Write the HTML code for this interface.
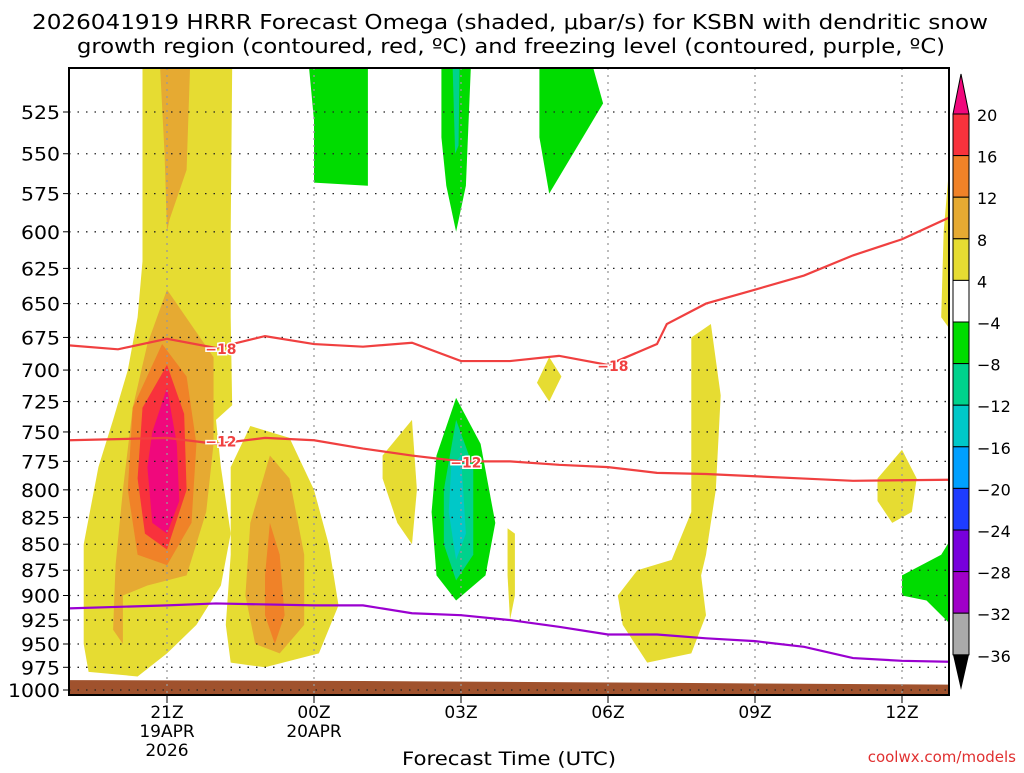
<!DOCTYPE html>
<html><head><meta charset="utf-8"><style>
body{margin:0;background:#fff;width:1024px;height:768px;overflow:hidden;font-family:"Liberation Sans",sans-serif}
</style></head><body>
<svg id="chart" width="1024" height="768" xmlns="http://www.w3.org/2000/svg" font-family="DejaVu Sans, Liberation Sans, sans-serif">
<text x="32" y="29" font-size="20" textLength="956" lengthAdjust="spacingAndGlyphs" fill="#000">2026041919 HRRR Forecast Omega (shaded, μbar/s) for KSBN with dendritic snow</text>
<text x="77" y="53" font-size="20" textLength="868" lengthAdjust="spacingAndGlyphs" fill="#000">growth region (contoured, red, ºC) and freezing level (contoured, purple, ºC)</text>
<text x="402" y="765" font-size="19" textLength="214" lengthAdjust="spacingAndGlyphs" fill="#000">Forecast Time (UTC)</text>
<text x="1016" y="762" font-size="15" text-anchor="end" fill="#e03030">coolwx.com/models</text>
<g id="plot"></g>
</svg>
<script>
const pLevels=[525,550,575,600,625,650,675,700,725,750,775,800,825,850,875,900,925,950,975,1000];
const timeTicks=[2,5,8,11,14,17];
const timeLabels=[["21Z","19APR","2026"],["00Z","20APR"],["03Z"],["06Z"],["09Z"],["12Z"]];
const cbLabels=["20","16","12","8","4","-4","-8","-12","-16","-20","-24","-28","-32","-36"];
const cbColors=["#f8323c","#f08228","#e6aa32","#e6dc32","#ffffff","#00dc00","#00d28c","#00c8c8","#00a0ff","#1e3cff","#7800dc","#a000c8","#aaaaaa"];
const hours=[0,1,2,3,4,5,6,7,8,9,10,11,12,12.2,13,14,15,16,17,18];
const iso18=[681,684,676,683,674,680,682,679,693,693,689,696,680,665,650,640,630,616,605,590];
const hours12=[0,2,3,4,5,6,7,8,9,10,11,12,13,15,16,18];
const iso12=[757,755,760,755,757,764,770,775,775,778,780,785,786,790,792,791];
const hoursFz=[0,2,3,5,6,7,8,9,10,11,12,13,14,15,16,17,18];
const freezing=[913,910,908,910,910,918,920,925,932,940,940,944,947,953,965,968,969];
const sfcHours=[0,6,12,18];
const sfcP=[989,990,992,994];
const blobs=[
["#e6dc32",[[1.5,500],[3.33,500],[3.3,600],[3.3,660],[3.33,728],[3.0,740],[3.1,780],[3.3,840],[3.1,890],[2.6,930],[2.0,960],[1.4,985],[0.4,980],[0.3,950],[0.3,850],[0.6,780],[0.9,740],[1.2,700],[1.4,660],[1.5,620]]],
["#e6aa32",[[1.86,500],[2.47,500],[2.4,560],[2.05,592],[2.0,600],[1.95,550]]],
["#e6aa32",[[2.0,640],[2.95,690],[2.95,760],[2.8,820],[2.4,880],[1.6,890],[1.1,900],[1.1,950],[0.9,935],[0.95,870],[1.1,800],[1.3,730],[1.6,680]]],
["#f08228",[[1.3,730],[1.9,680],[2.4,705],[2.6,760],[2.5,830],[2.0,870],[1.4,860],[1.2,800]]],
["#f8323c",[[1.5,730],[2.0,696],[2.35,735],[2.4,800],[2.0,855],[1.55,840],[1.4,790]]],
["#f0087c",[[1.7,750],[2.0,714],[2.2,760],[2.25,810],[2.0,840],[1.7,830],[1.6,780]]],
["#e6dc32",[[3.3,780],[3.7,745],[4.5,755],[5.0,800],[5.3,850],[5.5,910],[5.1,960],[4.0,975],[3.3,970],[3.2,930],[3.3,860]]],
["#e6aa32",[[3.7,830],[4.1,770],[4.5,790],[4.8,860],[4.8,930],[4.3,960],[3.8,950],[3.6,900]]],
["#f08228",[[4.0,880],[4.1,830],[4.3,860],[4.4,920],[4.2,950],[4.0,920]]],
["#00dc00",[[4.9,500],[6.1,500],[6.1,570],[5.0,568],[5.0,530]]],
["#00dc00",[[7.6,500],[8.2,500],[8.1,570],[7.9,600],[7.7,570],[7.6,540]]],
["#00d28c",[[7.83,500],[7.97,500],[7.95,545],[7.88,550]]],
["#00dc00",[[9.6,500],[10.7,500],[10.9,520],[9.8,575],[9.6,540]]],
["#e6dc32",[[6.4,770],[7.0,740],[7.1,800],[7.0,850],[6.7,830],[6.4,790]]],
["#00dc00",[[7.5,770],[7.9,722],[8.4,760],[8.7,830],[8.5,880],[7.9,905],[7.5,880],[7.4,820]]],
["#00d28c",[[7.65,800],[7.9,740],[8.25,780],[8.25,860],[7.9,885],[7.65,850]]],
["#00c8c8",[[7.8,780],[8.0,770],[8.1,840],[7.9,865],[7.75,820]]],
["#e6dc32",[[8.95,835],[9.1,840],[9.1,900],[9.0,925],[8.95,880]]],
["#e6dc32",[[9.55,710],[9.8,690],[10.05,705],[9.8,725]]],
["#e6dc32",[[12.7,675],[13.1,665],[13.3,720],[13.2,800],[13.0,860],[12.9,880],[13.0,920],[12.7,960],[11.8,970],[11.3,930],[11.2,900],[11.6,875],[12.3,865],[12.7,820]]],
["#e6dc32",[[16.5,790],[17.0,765],[17.3,790],[17.2,820],[16.8,830],[16.5,810]]],
["#00dc00",[[17.0,880],[17.8,860],[18.0,845],[18.0,930],[17.5,905],[17.0,900]]],
["#e6dc32",[[17.8,660],[17.85,600],[18,545],[18,670]]]
];
const L=69,R=949,T=68,B=695;
const xs=h=>L+49*h;
const ys=p=>690-897*Math.log(1000/p);
const NS="http://www.w3.org/2000/svg";
const g=document.getElementById('plot');
function mk(tag,attrs,parent){const e=document.createElementNS(NS,tag);for(const k in attrs)e.setAttribute(k,attrs[k]);(parent||g).appendChild(e);return e;}
const clip=mk('clipPath',{id:'pc'});mk('rect',{x:L,y:T,width:R-L,height:B-T},clip);
const inner=mk('g',{'clip-path':'url(#pc)'});
blobs.forEach(b=>{const e=mk('polygon',{points:b[1].map(q=>xs(q[0])+','+ys(q[1])).join(' '),fill:b[0]},inner);

});
let gp=sfcHours.map((h,i)=>xs(h)+','+ys(sfcP[i])).join(' ')+` ${R},${B} ${L},${B}`;
const gr=mk('polygon',{points:gp,fill:'#a0522d'},inner);


pLevels.forEach(p=>{mk('line',{x1:L,x2:R,y1:ys(p),y2:ys(p),stroke:'#222','stroke-width':1.3,'stroke-dasharray':'1.5 7'},inner);
const s=String(p);
const t=mk('text',{x:60,y:ys(p)+7,'font-size':19,'text-anchor':'end',fill:'#000',textLength:s.length*13,lengthAdjust:'spacingAndGlyphs'});t.textContent=s;


mk('line',{x1:63,x2:L,y1:ys(p),y2:ys(p),stroke:'#000'});});
timeTicks.forEach((h,i)=>{mk('line',{x1:xs(h),x2:xs(h),y1:T,y2:B,stroke:'#999','stroke-width':1.3,'stroke-dasharray':'2 5'},inner);
mk('line',{x1:xs(h),x2:xs(h),y1:B,y2:B+8,stroke:'#000'});
timeLabels[i].forEach((s,j)=>{const t=mk('text',{x:xs(h),y:718+j*19,'font-size':17,'text-anchor':'middle',fill:'#000'});t.textContent=s;

});});
function line(hh,pp,col,name){const e=mk('polyline',{points:hh.map((h,i)=>xs(h)+','+ys(pp[i])).join(' '),fill:'none',stroke:col,'stroke-width':2.2},inner);

}
line(hours,iso18,'#f04040','isotherm-minus18');
line(hours12,iso12,'#f04040','isotherm-minus12');
line(hoursFz,freezing,'#9a00d0','freezing-level');
function lab(h,p,s){
const t=mk('text',{x:xs(h),y:ys(p)+6,'font-size':14,'font-weight':'bold','text-anchor':'middle',fill:'#f04040',stroke:'#fff','stroke-width':3,'paint-order':'stroke'},inner);t.textContent=s;

}
lab(3.1,683,'−18');lab(3.1,757,'−12');lab(8.1,775,'−12');lab(11.1,696,'−18');
mk('rect',{x:L,y:T,width:R-L,height:B-T,fill:'none',stroke:'#000','stroke-width':2});
const cb=mk('g',{});
const cx=953,cw=16,c0=114,ch=41.6;
mk('polygon',{points:`${cx},${c0} ${cx+cw},${c0} ${cx+cw/2},74`,fill:'#f0087c',stroke:'#000'},cb);
cbColors.forEach((c,i)=>mk('rect',{x:cx,y:c0+i*ch,width:cw,height:ch,fill:c,stroke:'#000'},cb));
const cend=c0+cbColors.length*ch;
mk('polygon',{points:`${cx},${cend} ${cx+cw},${cend} ${cx+cw/2},690`,fill:'#000'},cb);
cbLabels.forEach((s,i)=>{const t=mk('text',{x:977,y:c0+i*ch+7,'font-size':16,fill:'#000'},cb);t.textContent=s.replace('-','−');

});
</script>
</body></html>
